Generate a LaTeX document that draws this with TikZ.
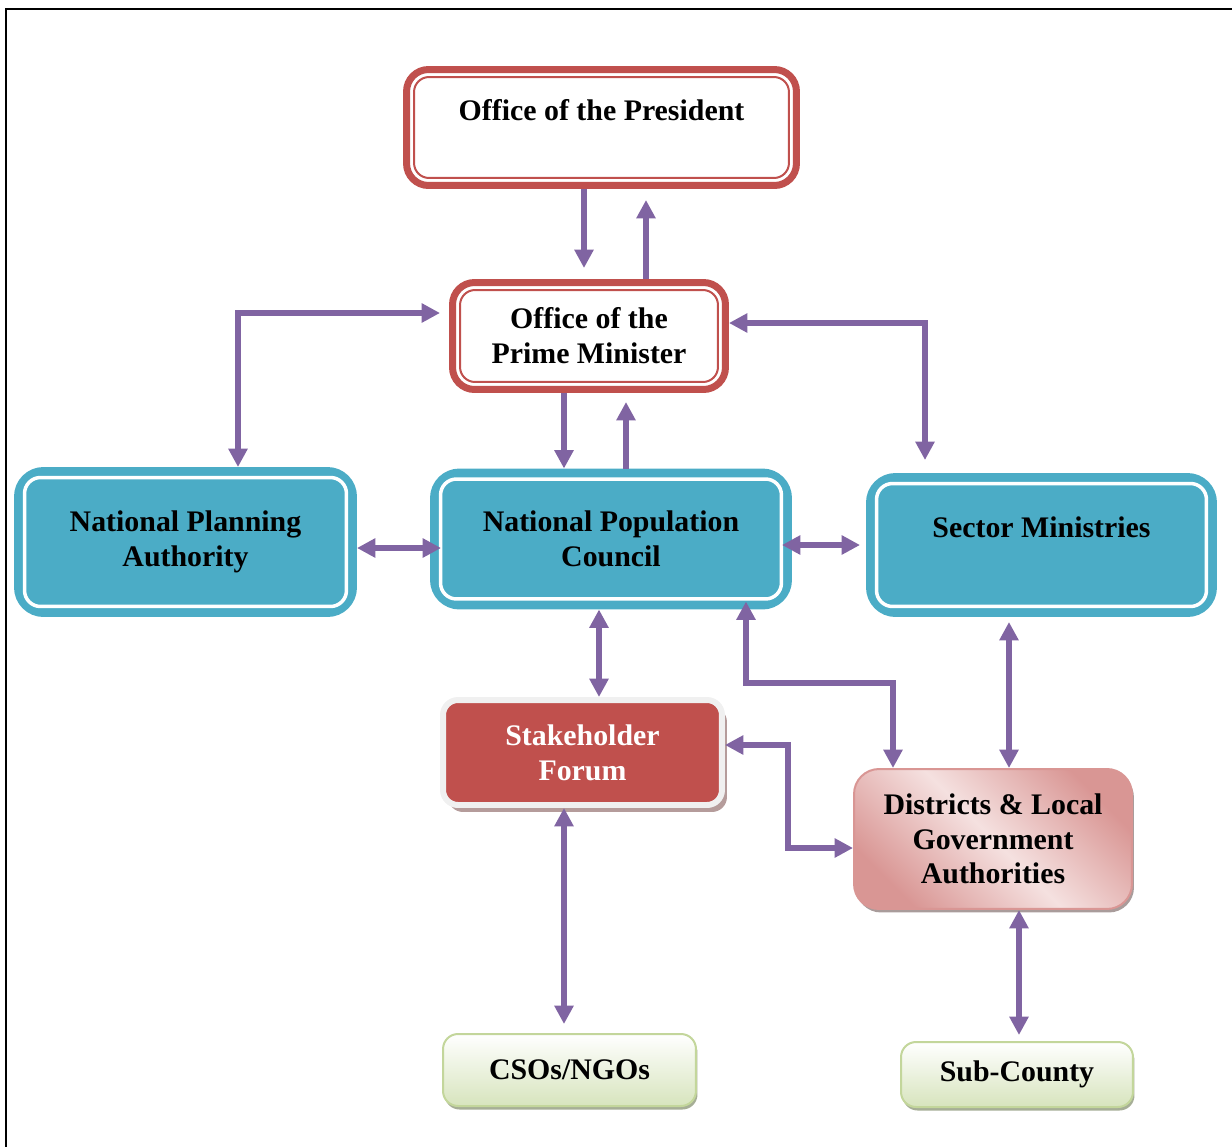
\documentclass[tikz,border=0pt]{standalone}
\usepackage{fontspec}
\setmainfont{Liberation Serif}
\usetikzlibrary{arrows.meta,calc,shadows}
\definecolor{arrowpurple}{HTML}{8064A2}
\definecolor{officered}{HTML}{C0504D}
\definecolor{councilteal}{HTML}{4BACC6}
\definecolor{districtpink}{HTML}{D99694}
\definecolor{districtlight}{HTML}{F5E1E0}
\definecolor{districtshadow}{HTML}{A99C9B}
\definecolor{forumframe}{HTML}{F0F0F0}
\definecolor{forumshadow}{HTML}{B59C9B}
\definecolor{grassgreen}{HTML}{D7E4BD}
\definecolor{grassedge}{HTML}{C3D69B}
\definecolor{grassshadow}{HTML}{A6AE96}
\tikzset{
	boxtext/.style={font=\fontsize{17}{19.8}\selectfont\bfseries,align=center,inner sep=0pt},
	officebox/.style={boxtext,draw=officered,fill=white,line width=0.14cm,rounded corners=0.44cm},
	officeinner/.style={draw=officered,line width=0.04cm,rounded corners=0.3cm},
	councilbox/.style={boxtext,draw=councilteal,fill=councilteal,line width=0.18cm,rounded corners=0.5cm},
	councilinner/.style={draw=white,line width=0.07cm,rounded corners=0.32cm},
	forumbox/.style={boxtext,text=white,draw=forumframe,fill=officered,line width=0.12cm,rounded corners=0.3cm,
		drop shadow={shadow xshift=0.1cm,shadow yshift=-0.14cm,fill=forumshadow,opacity=1}},
	districtbox/.style={boxtext,draw=districtpink,line width=0.04cm,rounded corners=0.5cm,
		top color=districtpink,bottom color=districtpink,middle color=districtlight,shading angle=-45,
		drop shadow={shadow xshift=0.04cm,shadow yshift=-0.07cm,fill=districtshadow,opacity=1}},
	grassbox/.style={boxtext,draw=grassedge,line width=0.04cm,rounded corners=0.3cm,
		top color=white,bottom color=grassgreen,
		drop shadow={shadow xshift=0.03cm,shadow yshift=-0.07cm,fill=grassshadow,opacity=1}},
	flow/.style={draw=arrowpurple,line width=0.11cm,-{Triangle[length=0.37cm,width=0.37cm]}},
	flowboth/.style={flow,{Triangle[length=0.37cm,width=0.37cm]}-{Triangle[length=0.37cm,width=0.37cm]}}
}
\begin{document}
\begin{tikzpicture}[x=0.02cm,y=-0.02cm]
	\useasboundingbox (0,0) rectangle (1232,1147);
	%frame
	\draw[line width=0.05cm] (6,1147) -- (6,9) -- (1232,9);
	
	%offices
	\node[officebox,minimum width=7.8cm,minimum height=2.32cm](pres) at (601.5,127.5) {Office of the President\\\mbox{}};
	\node[officebox,minimum width=5.46cm,minimum height=2.14cm](pm) at (589,336) {Office of the\\Prime Minister};
	\foreach \n in {pres,pm}
		\draw[officeinner] ($(\n.south west)+(11,-11)$) rectangle ($(\n.north east)+(-11,11)$);
	
	%councils
	\node[councilbox,minimum width=6.68cm,minimum height=2.82cm](npa) at (185.5,542) {National Planning\\Authority};
	\node[councilbox,minimum width=7.06cm,minimum height=2.64cm](npc) at (611,539) {National Population\\Council};
	\node[councilbox,minimum width=6.84cm,minimum height=2.7cm](sm) at (1041.5,545) {Sector Ministries\\\mbox{}};
	\foreach \n in {npa,npc,sm}
		\draw[councilinner] ($(\n.south west)+(10.5,-10.5)$) rectangle ($(\n.north east)+(-10.5,10.5)$);
	
	%lower level
	\node[forumbox,minimum width=5.58cm,minimum height=2.1cm](sf) at (582.5,752.5) {Stakeholder\\Forum};
	\node[districtbox,minimum width=5.56cm,minimum height=2.8cm](dla) at (993,839) {Districts \& Local\\Government\\Authorities};
	\node[grassbox,minimum width=5.06cm,minimum height=1.44cm](cso) at (569.5,1070) {CSOs/NGOs};
	\node[grassbox,minimum width=4.64cm,minimum height=1.3cm](sub) at (1017,1074.5) {Sub-County};
	
	%arrows
	\draw[flow,shorten >=0.22cm] (584,0 |- pres.south) -- (584,0 |- pm.north);
	\draw[flow,shorten >=0.22cm] (646,0 |- pm.north) -- (646,0 |- pres.south);
	\draw[flowboth,shorten >=0.18cm] (238,0 |- npa.north) |- (pm.west |- 0,313);
	\draw[flowboth,shorten >=0.26cm] (pm.east |- 0,323) -| (925,0 |- sm.north);
	\draw[flow] (564,0 |- pm.south) -- (564,0 |- npc.north);
	\draw[flow,shorten >=0.18cm] (626,0 |- npc.north) -- (626,0 |- pm.south);
	\draw[flowboth,shorten >=-0.22cm] (npa.east |- 0,548) -- (npc.west |- 0,548);
	\draw[flowboth,shorten <=-0.2cm,shorten >=0.12cm] (npc.east |- 0,545) -- (sm.west |- 0,545);
	\draw[flowboth] (599,0 |- npc.south) -- (599,0 |- sf.north);
	\draw[flowboth,shorten <=-0.16cm] (746,0 |- npc.south) -- (746,683) -| (893,0 |- dla.north);
	\draw[flowboth,shorten <=0.1cm] (1009,0 |- sm.south) -- (1009,0 |- dla.north);
	\draw[flowboth] (sf.east |- 0,745) -| (788,848) -- (dla.west |- 0,848);
	\draw[flowboth,shorten >=0.18cm] (564,0 |- sf.south) -- (564,0 |- cso.north);
	\draw[flowboth,shorten >=0.12cm] (1019,0 |- dla.south) -- (1019,0 |- sub.north);
\end{tikzpicture}
\end{document}
